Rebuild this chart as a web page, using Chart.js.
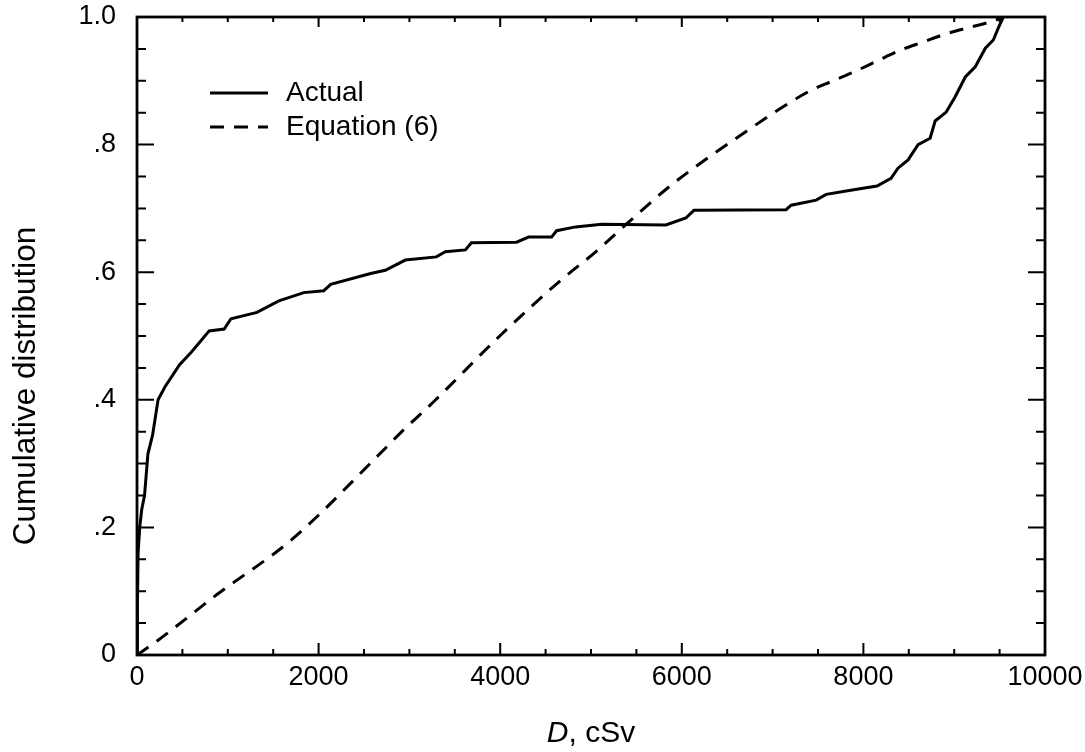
<!DOCTYPE html>
<html>
<head>
<meta charset="utf-8">
<script src="https://cdn.jsdelivr.net/npm/chart.js@4.4.1/dist/chart.umd.min.js"></script>
<style>
  body { margin: 0; background: #fff; }
  #wrap { width: 1085px; height: 752px; }
</style>
</head>
<body>
<div id="wrap"><canvas id="cdf_chart"></canvas></div>
<script>
// values
const actualDose = [0, 5, 12, 30, 52, 83, 120, 172, 232, 307, 469, 600, 718, 795, 960, 1035, 1321, 1562, 1837, 2057,
    2133, 2573, 2734, 2955, 3297, 3396, 3617, 3683, 4180, 4312, 4566, 4621, 4831, 5118, 5825, 6045, 6133, 7149, 7204, 7480,
    7590, 7877, 8150, 8304, 8381, 8492, 8602, 8735, 8790, 8912, 9011, 9122, 9232, 9343, 9431, 9486, 9541];
const actualCdf = [0, 0.08, 0.16, 0.20, 0.228, 0.25, 0.315, 0.345, 0.40, 0.42, 0.455, 0.475, 0.495, 0.508, 0.511, 0.527, 0.537, 0.555, 0.568, 0.571,
    0.581, 0.598, 0.603, 0.619, 0.624, 0.632, 0.635, 0.646, 0.647, 0.655, 0.655, 0.665, 0.671, 0.675, 0.674, 0.685, 0.697, 0.698, 0.705, 0.713,
    0.722, 0.729, 0.735, 0.747, 0.763, 0.776, 0.80, 0.81, 0.837, 0.851, 0.875, 0.906, 0.922, 0.951, 0.964, 0.983, 1.0];

const equationDose = [0, 240, 873, 1713, 2658, 2908, 3267, 3995, 4648, 5052, 5379, 5879, 6600, 7408, 7666, 7913, 8164, 8410, 8661, 8919, 9178, 9436, 9540];
const equationCdf = [0, 0.024, 0.094, 0.182, 0.313, 0.349, 0.397, 0.50, 0.585, 0.632, 0.674, 0.736, 0.81, 0.884, 0.90, 0.915, 0.932, 0.948, 0.961, 0.974, 0.984, 0.994, 1.0];

const xTicks = [0, 2000, 4000, 6000, 8000, 10000];
const yTicks = [0, 0.2, 0.4, 0.6, 0.8, 1.0];
const yTickLabels = ["0", ".2", ".4", ".6", ".8", "1.0"];
const xMinorStep = 500;
const yMinorStep = 0.05;

const toPoints = (xs, ys) => xs.map((v, i) => ({ x: v, y: ys[i] }));

const FONT = "'Liberation Sans', Arial, Helvetica, sans-serif";

// frame, inside ticks on all four sides, legend and axis titles
const decorations = {
    id: "decorations",
    afterDatasetsDraw(chart) {
        const { ctx, chartArea: a, scales: { x, y } } = chart;
        ctx.save();
        ctx.strokeStyle = "#000";
        ctx.lineWidth = 2.8;
        ctx.strokeRect(a.left, a.top, a.right - a.left, a.bottom - a.top);

        ctx.lineWidth = 2;
        ctx.beginPath();
        for (let d = 0; d <= 10000; d += xMinorStep) {
            const px = x.getPixelForValue(d);
            const major = xTicks.includes(d);
            ctx.moveTo(px, a.bottom);
            ctx.lineTo(px, a.bottom - (major ? 12 : 6));
            ctx.moveTo(px, a.top);
            ctx.lineTo(px, a.top + (major ? 10 : 5));
        }
        for (let i = 0; i <= 20; i++) {
            const py = y.getPixelForValue(i * yMinorStep);
            const len = i % 4 === 0 ? 17 : 9;
            ctx.moveTo(a.left, py);
            ctx.lineTo(a.left + len, py);
            ctx.moveTo(a.right, py);
            ctx.lineTo(a.right - len, py);
        }
        ctx.stroke();

        // legend
        ctx.font = "28px " + FONT;
        ctx.fillStyle = "#000";
        ctx.textBaseline = "middle";
        chart.data.datasets.forEach((ds, i) => {
            const ly = 93 + i * 34;
            ctx.lineWidth = ds.borderWidth;
            ctx.setLineDash(ds.borderDash || []);
            ctx.beginPath();
            ctx.moveTo(210, ly);
            ctx.lineTo(268, ly);
            ctx.stroke();
            ctx.setLineDash([]);
            ctx.fillText(ds.label, 286, ly);
        });

        // y axis title, sits a little below the middle of the frame in the original
        ctx.save();
        ctx.translate(35, 386);
        ctx.rotate(-Math.PI / 2);
        ctx.font = "31.5px " + FONT;
        ctx.textAlign = "center";
        ctx.textBaseline = "alphabetic";
        ctx.fillText("Cumulative distribution", 0, 0);
        ctx.restore();

        // x axis title: italic D, then ", cSv"
        const cx = (a.left + a.right) / 2;
        ctx.textBaseline = "alphabetic";
        ctx.font = "italic 30px " + FONT;
        const w1 = ctx.measureText("D").width;
        ctx.font = "30px " + FONT;
        const w2 = ctx.measureText(", cSv").width;
        const sx = cx - (w1 + w2) / 2;
        ctx.font = "italic 30px " + FONT;
        ctx.fillText("D", sx, 742);
        ctx.font = "30px " + FONT;
        ctx.fillText(", cSv", sx + w1, 742);
        ctx.restore();
    }
};

const cdfChart = new Chart(document.getElementById("cdf_chart"), {
    type: "scatter",
    data: {
        datasets: [{
            label: "Actual",
            data: toPoints(actualDose, actualCdf),
            showLine: true,
            borderColor: "#000",
            borderWidth: 3,
            pointRadius: 0,
            tension: 0
        }, {
            label: "Equation (6)",
            data: toPoints(equationDose, equationCdf),
            showLine: true,
            borderColor: "#000",
            borderWidth: 3,
            borderDash: [14, 10],
            pointRadius: 0,
            cubicInterpolationMode: "monotone"
        }]
    },
    options: {
        responsive: true,
        maintainAspectRatio: false,
        animation: false,
        layout: { autoPadding: false, padding: { left: 0, top: 17, right: 40, bottom: 0 } },
        plugins: {
            legend: { display: false },
            tooltip: { enabled: false }
        },
        scales: {
            x: {
                type: "linear",
                min: 0,
                max: 10000,
                afterFit: s => {
                    s.height = 97;
                    s.paddingLeft = 0;
                    s.paddingRight = 0;
                },
                afterBuildTicks: s => { s.ticks = xTicks.map(v => ({ value: v })); },
                ticks: {
                    color: "#000",
                    font: { family: FONT, size: 27 },
                    padding: -2,
                    maxRotation: 0,
                    callback: v => String(v)
                },
                grid: { display: false },
                border: { display: false }
            },
            y: {
                type: "linear",
                min: 0,
                max: 1,
                afterFit: s => {
                    s.width = 137;
                    s.paddingTop = 0;
                    s.paddingBottom = 0;
                },
                afterBuildTicks: s => { s.ticks = yTicks.map(v => ({ value: v })); },
                ticks: {
                    color: "#000",
                    font: { family: FONT, size: 27 },
                    padding: 13,
                    callback: v => yTickLabels[yTicks.findIndex(t => Math.abs(t - v) < 1e-6)]
                },
                grid: { display: false },
                border: { display: false }
            }
        }
    },
    plugins: [decorations]
});
</script>
</body>
</html>
